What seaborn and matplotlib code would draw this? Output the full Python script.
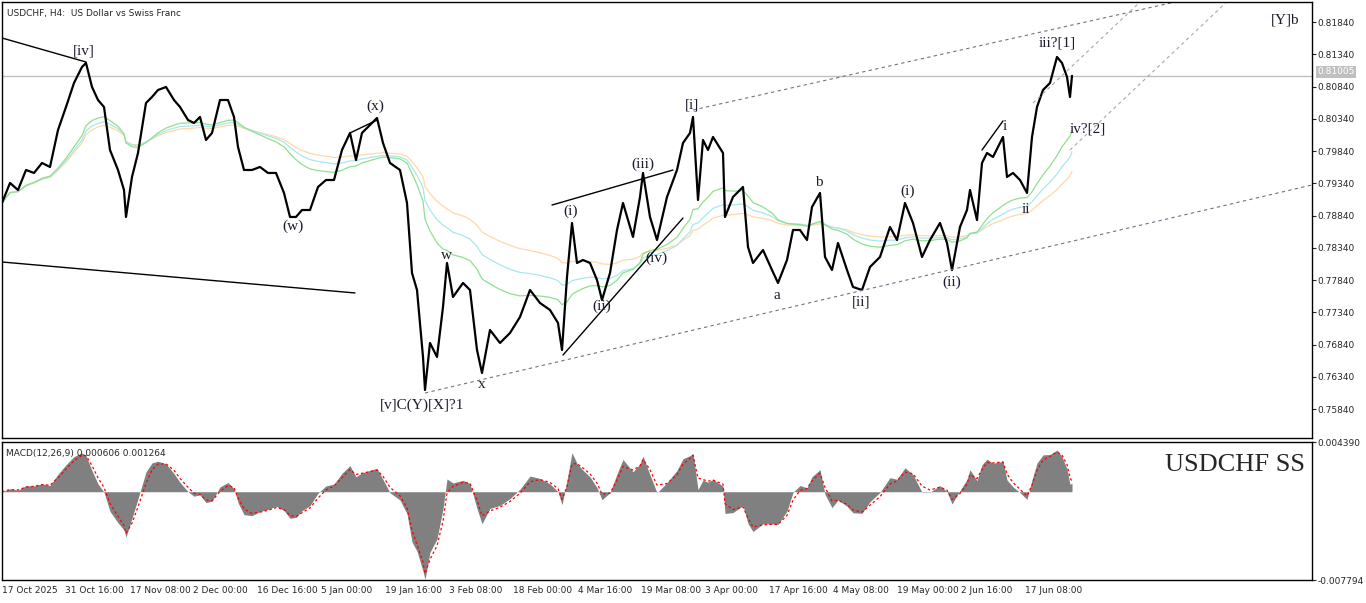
import numpy as np
import pandas as pd
import matplotlib
matplotlib.use("Agg")
import matplotlib.pyplot as plt
import seaborn as sns

sns.set_style("white")
plt.rcParams['font.family'] = ['DejaVu Sans']

# bar position (H4 bars since 17 Oct 2025) and price
bar = [2, 10, 18, 26, 34, 42, 50, 58, 66, 74, 82, 86, 92, 98, 104, 110, 118, 124, 126, 132,
       138, 146, 152, 158, 166, 174, 180, 188, 194, 200, 206, 212, 220, 228, 234, 238, 244, 252, 260, 268,
       276, 284, 290, 296, 302, 310, 318, 326, 334, 342, 350, 356, 362, 377, 383, 390, 400, 407, 412, 417,
       423, 425, 430, 437, 443, 447, 453, 463, 470, 477, 482, 490, 500, 510, 520, 530, 540, 550, 558, 562,
       567, 572, 577, 583, 590, 597, 602, 610, 617, 623, 633, 640, 643, 650, 657, 667, 677, 683, 690, 693,
       698, 703, 708, 713, 723, 725, 733, 743, 748, 753, 763, 772, 778, 787, 793, 800, 807, 812, 820, 825,
       832, 838, 847, 853, 862, 870, 880, 890, 897, 905, 913, 922, 930, 940, 947, 952, 960, 967, 970, 977,
       982, 987, 993, 1003, 1007, 1013, 1020, 1027, 1032, 1037, 1043, 1050, 1057, 1062, 1067, 1070, 1072]
price = [0.79035, 0.79345, 0.79236, 0.79546, 0.79500, 0.79655, 0.79593, 0.80166, 0.80523, 0.80895,
         0.81143, 0.81205, 0.80833, 0.80631, 0.80523, 0.79856, 0.79546, 0.79236, 0.78818, 0.79438,
         0.79810, 0.80585, 0.80678, 0.80786, 0.80833, 0.80631, 0.80523, 0.80321, 0.80275, 0.80368,
         0.80011, 0.80120, 0.80631, 0.80631, 0.80368, 0.79903, 0.79546, 0.79546, 0.79593, 0.79500,
         0.79500, 0.79190, 0.78818, 0.78818, 0.78926, 0.78926, 0.79283, 0.79391, 0.79391, 0.79856,
         0.80120, 0.79701, 0.80120, 0.80352, 0.79965, 0.79655, 0.79546, 0.79035, 0.77950, 0.77686,
         0.76648, 0.76136, 0.76865, 0.76648, 0.77423, 0.78105, 0.77578, 0.77795, 0.77686, 0.76756,
         0.76400, 0.77066, 0.76865, 0.77020, 0.77268, 0.77686, 0.77485, 0.77376, 0.77175, 0.76756,
         0.77888, 0.78725, 0.78105, 0.78151, 0.78105, 0.77841, 0.77531, 0.77950, 0.78616, 0.79035,
         0.78508, 0.79128, 0.79500, 0.78818, 0.78461, 0.79128, 0.79546, 0.79965, 0.80120, 0.80368,
         0.79081, 0.80011, 0.79856, 0.80058, 0.79810, 0.78818, 0.79128, 0.79283, 0.78353, 0.78105,
         0.78306, 0.77996, 0.77795, 0.78151, 0.78616, 0.78616, 0.78461, 0.78973, 0.79190, 0.78198,
         0.77996, 0.78415, 0.77996, 0.77733, 0.77686, 0.78043, 0.78198, 0.78663, 0.78461, 0.79035,
         0.78725, 0.78198, 0.78461, 0.78725, 0.78415, 0.77996, 0.78663, 0.78926, 0.79236, 0.78771,
         0.79655, 0.79810, 0.79748, 0.80058, 0.79438, 0.79500, 0.79391, 0.79190, 0.80058, 0.80523,
         0.80786, 0.80895, 0.81298, 0.81205, 0.80988, 0.80678, 0.81005]

last_price = 0.81005
date_labels = ["17 Oct 2025", "31 Oct 16:00", "17 Nov 08:00", "2 Dec 00:00", "16 Dec 16:00",
               "5 Jan 00:00", "19 Jan 16:00", "3 Feb 08:00", "18 Feb 00:00", "4 Mar 16:00",
               "19 Mar 08:00", "3 Apr 00:00", "17 Apr 16:00", "4 May 08:00", "19 May 00:00",
               "2 Jun 16:00", "17 Jun 08:00"]
date_bars = [2, 65, 130, 193, 257, 321, 385, 449, 513, 578, 641, 705, 769, 833, 897, 961, 1025]
price_ticks = [0.75840, 0.76340, 0.76840, 0.77340, 0.77840, 0.78340, 0.78840,
               0.79340, 0.79840, 0.80340, 0.80840, 0.81340, 0.81840]

# wave labels: (text, bar, price)
waves = [("[iv]", 84, 0.8139), ("(x)", 375, 0.8053), ("(w)", 293, 0.7868), ("[v]C(Y)[X]?1", 422, 0.7590),
         ("w", 446, 0.7822), ("x", 482, 0.7622), ("(i)", 571, 0.7891), ("(ii)", 602, 0.7744),
         ("(iii)", 643, 0.7964), ("(iv)", 656, 0.7818), ("[i]", 692, 0.8055), ("a", 777, 0.7760),
         ("b", 819, 0.7936), ("[ii]", 861, 0.7750), ("(i)", 908, 0.7921), ("(ii)", 952, 0.7781),
         ("i", 1005, 0.8022), ("ii", 1026, 0.7893), ("iii?[1]", 1057, 0.8151), ("iv?[2]", 1088, 0.8018),
         ("[Y]b", 1285, 0.8187)]

# trend lines: ((bar0, price0), (bar1, price1))
solid_lines = [((2, 0.81592), (86, 0.81220)), ((2, 0.78120), (355, 0.77640)),
               ((552, 0.79003), (673, 0.79546)), ((563, 0.76678), (683, 0.78802)),
               ((350, 0.80120), (377, 0.80320)), ((982, 0.79856), (1003, 0.80306))]
channel_lines = [((425, 0.76090), (1312, 0.79314)), ((693, 0.80476), (1175, 0.82150))]
faint_lines = [((1033, 0.80584), (1140, 0.82150)), ((1070, 0.79856), (1312, 0.83400))]

df = pd.DataFrame({"bar": bar, "price": price})
df["ma1"] = df["price"].ewm(span=20).mean()
df["ma2"] = df["price"].ewm(span=30).mean()
df["ma3"] = df["price"].ewm(span=45).mean()
fast = df["price"].ewm(span=3).mean()
slow = df["price"].ewm(span=6).mean()
df["macd"] = fast - slow
df["signal"] = df["macd"].ewm(span=2).mean()

fig = plt.figure(figsize=(13.66, 6.03), dpi=100)
ax = fig.add_axes([2/1366, 165/603, 1310/1366, 436/603])
ax2 = fig.add_axes([2/1366, 23/603, 1310/1366, 138/603])

for a in (ax, ax2):
    for s in a.spines.values():
        s.set_color("black")
        s.set_linewidth(1)
    a.set_xlim(2, 1312)
    a.yaxis.tick_right()
    a.tick_params(axis="y", direction="out", length=3, labelsize=6.5, pad=1)

ax.axhline(last_price, color="#c0c0c0", lw=1)
sns.lineplot(data=df, x="bar", y="ma3", ax=ax, color="#ffd8a8", lw=0.9)
sns.lineplot(data=df, x="bar", y="ma2", ax=ax, color="#a8e8ec", lw=0.9)
sns.lineplot(data=df, x="bar", y="ma1", ax=ax, color="#90e090", lw=0.9)
sns.lineplot(data=df, x="bar", y="price", ax=ax, color="black", lw=1.6)

for (x0, y0), (x1, y1) in solid_lines:
    ax.plot([x0, x1], [y0, y1], color="black", lw=1)
for (x0, y0), (x1, y1) in channel_lines:
    ax.plot([x0, x1], [y0, y1], color="#6a7585", lw=0.8, ls=(0, (3, 3)))
for (x0, y0), (x1, y1) in faint_lines:
    ax.plot([x0, x1], [y0, y1], color="#a8a8a8", lw=0.8, ls=(0, (3, 3)))

for txt, xb, yp in waves:
    ax.text(xb, yp, txt, ha="center", va="center", fontsize=11, color="#1c1c30",
            family=["Liberation Serif"])

ax.set_ylim(0.75392, 0.82150)
ax.set_yticks(price_ticks)
ax.set_yticklabels([f"{v:.5f}" for v in price_ticks])
ax.set_xticks([])
ax.set_xlabel("")
ax.set_ylabel("")
ax.text(1.004, last_price + 0.0006, f"{last_price:.5f}", transform=ax.get_yaxis_transform(),
        fontsize=6.5, color="white", va="center", ha="left",
        bbox=dict(boxstyle="square,pad=0.15", fc="#c0c0c0", ec="none"))
ax.text(0.004, 0.985, "USDCHF, H4:  US Dollar vs Swiss Franc", transform=ax.transAxes,
        fontsize=6.5, va="top", ha="left")

ax2.fill_between(df["bar"], 0, df["macd"], color="#808080", lw=0)
sns.lineplot(data=df, x="bar", y="signal", ax=ax2, color="red", lw=0.9, ls=(0, (2, 2)))
ax2.set_ylim(-0.007794, 0.004390)
ax2.set_yticks([0.004390, -0.007794])
ax2.set_yticklabels(["0.004390", "-0.007794"])
ax2.set_xticks(date_bars)
ax2.set_xticklabels(date_labels, fontsize=6.5)
ax2.tick_params(axis="x", direction="out", length=3, pad=1)
for t in ax2.get_xticklabels():
    t.set_ha("left")
ax2.set_xlabel("")
ax2.set_ylabel("")
ax2.text(0.003, 0.95, "MACD(12,26,9) 0.000606 0.001264", transform=ax2.transAxes,
         fontsize=6.5, va="top", ha="left")
ax2.text(0.995, 0.83, "USDCHF SS", transform=ax2.transAxes, fontsize=19, va="center",
         ha="right", family=["Liberation Serif"])

fig.savefig("out.png", dpi=100)
